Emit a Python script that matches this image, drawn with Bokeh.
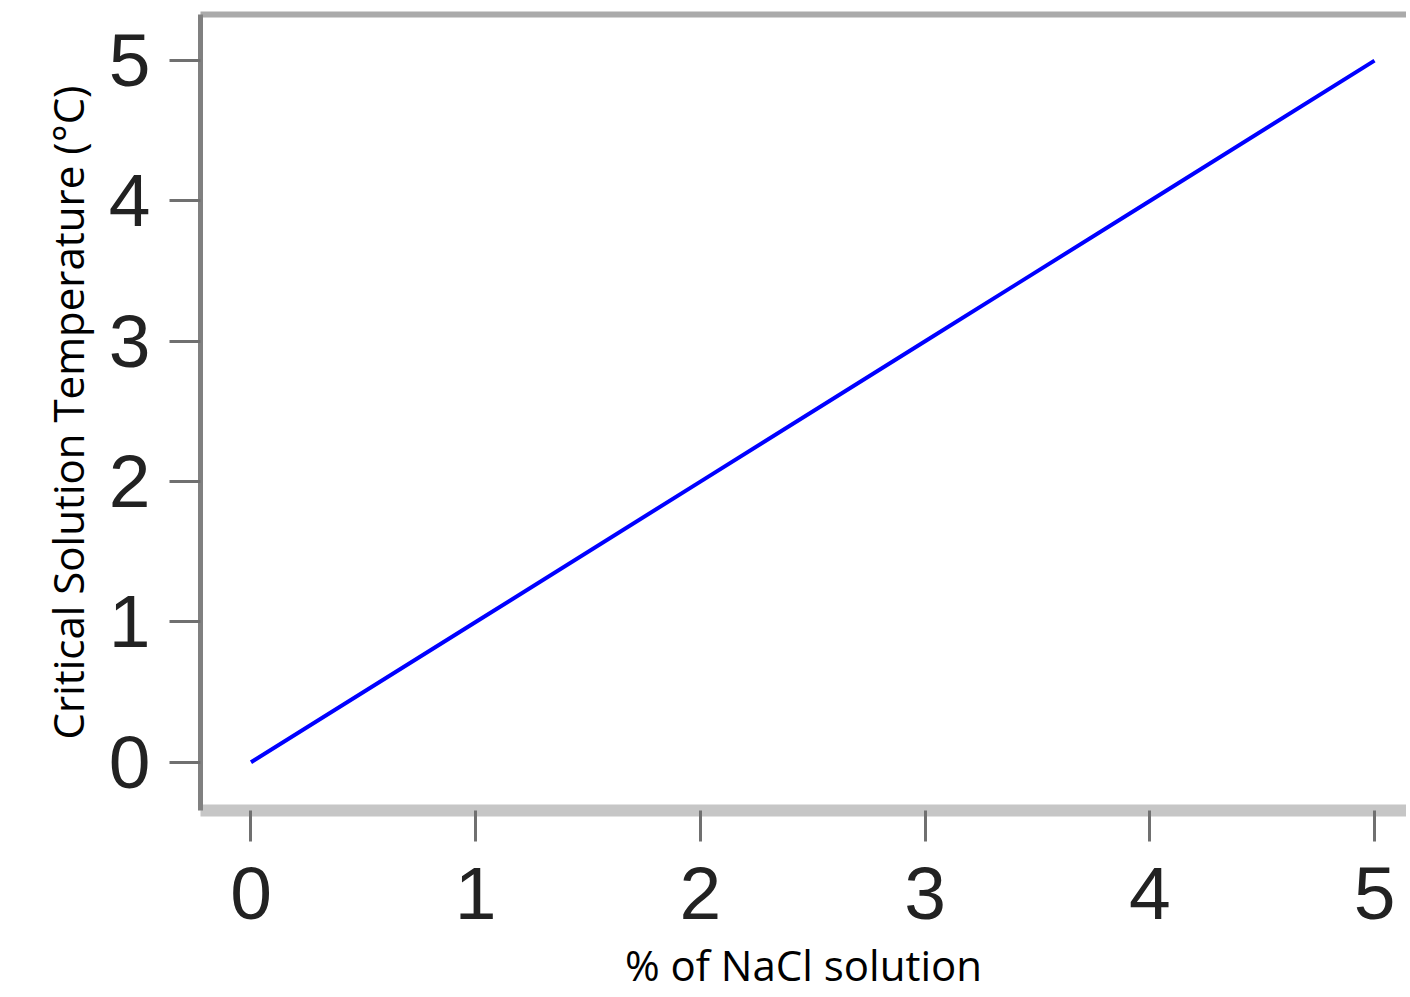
from bokeh.plotting import figure
from bokeh.models import Range1d, FixedTicker, LinearAxis
from bokeh.embed import file_html
from bokeh.resources import INLINE

# Data
nacl_percent = [0, 1, 2, 3, 4, 5]
critical_temp = [0, 1, 2, 3, 4, 5]
x_ticks = [0, 1, 2, 3, 4, 5]
y_ticks = [0, 1, 2, 3, 4, 5]

p = figure(width=1406, height=995, output_backend="svg", toolbar_location=None,
           x_range=Range1d(-0.2247, 5.1424), y_range=Range1d(-0.3435, 5.3286),
           min_border_left=200, min_border_right=0, min_border_top=14, min_border_bottom=183)
p.outline_line_color = None
p.grid.visible = False
p.background_fill_color = "white"
p.border_fill_color = "white"

p.line(nacl_percent, critical_temp, line_color="#0000ff", line_width=4)

tick_font = "Liberation Sans"
for ax in (p.xaxis[0], p.yaxis[0]):
    ax.major_tick_in = 0
    ax.major_tick_out = 31
    ax.minor_tick_line_color = None
    ax.major_tick_line_width = 3
    ax.major_tick_line_color = "#707070"
    ax.major_label_text_font = tick_font
    ax.major_label_text_font_size = "75px"
    ax.major_label_text_color = "#222222"
    ax.axis_label_text_font = "Open Sans"
    ax.axis_label_text_font_style = "normal"
    ax.axis_label_text_color = "#000000"
    ax.axis_label_text_font_size = "42px"

p.xaxis[0].ticker = FixedTicker(ticks=x_ticks)
p.yaxis[0].ticker = FixedTicker(ticks=y_ticks)
p.xaxis[0].axis_label = "% of NaCl solution"
p.yaxis[0].axis_label = "Critical Solution Temperature (°C)"
p.xaxis[0].major_label_standoff = 26
p.yaxis[0].major_label_standoff = 19
p.xaxis[0].axis_label_standoff = 14
p.yaxis[0].axis_label_standoff = 10

p.xaxis[0].axis_line_color = "#c6c6c6"
p.xaxis[0].axis_line_width = 12
p.yaxis[0].axis_line_color = "#808080"
p.yaxis[0].axis_line_width = 5

top = LinearAxis(ticker=FixedTicker(ticks=[]), major_label_text_font_size="0px",
                 axis_line_color="#aaaaaa", axis_line_width=6,
                 major_tick_line_color=None, minor_tick_line_color=None)
p.add_layout(top, "above")

open("out.html", "w").write(file_html(p, INLINE))
